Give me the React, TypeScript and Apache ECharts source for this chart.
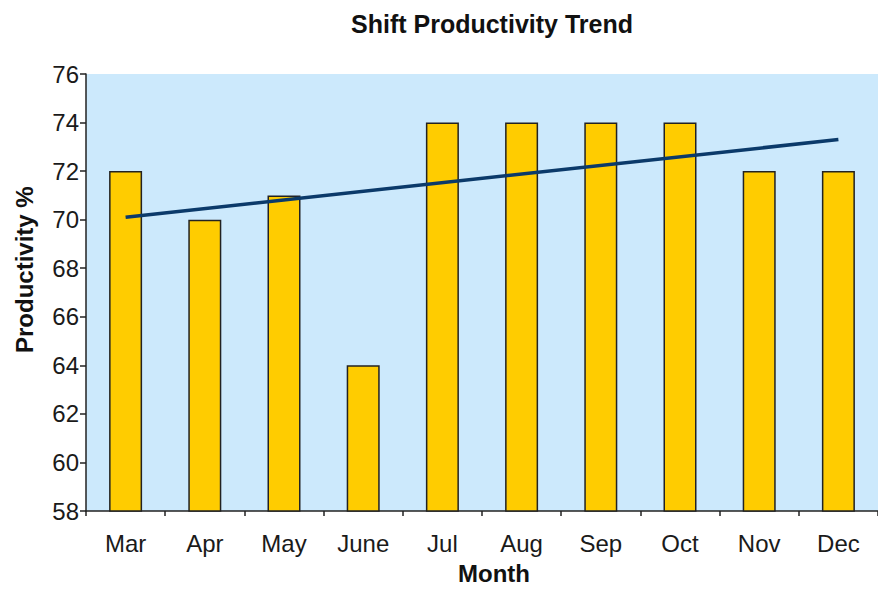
import React, { useEffect, useRef } from "react";
import * as echarts from "echarts";

const months = ["Mar", "Apr", "May", "June", "Jul", "Aug", "Sep", "Oct", "Nov", "Dec"];
const productivity = [72, 70, 71, 64, 74, 74, 74, 74, 72, 72];
const trend = [70.1, null, null, null, null, null, null, null, null, 73.3];
const yMin = 58;
const yMax = 76;
const yStep = 2;

const FONT = "'Liberation Sans', Arial, sans-serif";

export default function App() {
  const ref = useRef<HTMLDivElement>(null);
  useEffect(() => {
    if (!ref.current) return;
    const chart = echarts.init(ref.current, null, { renderer: "svg" });
    chart.setOption({
      animation: false,
      backgroundColor: "#ffffff",
      textStyle: { fontFamily: FONT },
      title: {
        text: "Shift Productivity Trend",
        left: 487,
        top: 6,
        textAlign: "center",
        textStyle: { fontFamily: FONT, fontSize: 25, fontWeight: "bold", color: "#111" },
      },
      grid: {
        left: 86,
        top: 74,
        right: -8,
        bottom: 78,
        show: true,
        backgroundColor: "#cce9fc",
        borderWidth: 0,
      },
      xAxis: {
        type: "category",
        data: months,
        boundaryGap: true,
        axisLine: { show: true, lineStyle: { color: "#222", width: 1.5 } },
        axisTick: { show: true, length: 5, lineStyle: { color: "#222", width: 1.5 } },
        axisLabel: { fontFamily: FONT, fontSize: 24, color: "#1a1a1a", margin: 20 },
        splitLine: { show: false },
      },
      yAxis: {
        type: "value",
        min: yMin,
        max: yMax,
        interval: yStep,
        axisLine: { show: true, lineStyle: { color: "#222", width: 1.5 } },
        axisTick: { show: true, length: 6, lineStyle: { color: "#222", width: 1.5 } },
        axisLabel: { fontFamily: FONT, fontSize: 24, color: "#1a1a1a", margin: 7 },
        splitLine: { show: false },
      },
      graphic: [
        {
          type: "text",
          left: 458,
          top: 561,
          style: { text: "Month", font: `bold 24px ${FONT}`, fill: "#111" },
        },
        {
          type: "text",
          x: 12,
          y: 353,
          rotation: Math.PI / 2,
          style: { text: "Productivity %", font: `bold 24px ${FONT}`, fill: "#111" },
        },
      ],
      series: [
        {
          type: "bar",
          data: productivity,
          barWidth: 33,
          itemStyle: { color: "#ffcc00", borderColor: "#222", borderWidth: 1.5 },
        },
        {
          type: "line",
          data: trend,
          connectNulls: true,
          symbol: "none",
          lineStyle: { color: "#0b3a6a", width: 3.5 },
          z: 5,
        },
      ],
    });
    return () => chart.dispose();
  }, []);
  return (
    <div
      ref={ref}
      style={{ position: "absolute", left: 0, top: 0, width: 878, height: 589 }}
    />
  );
}
